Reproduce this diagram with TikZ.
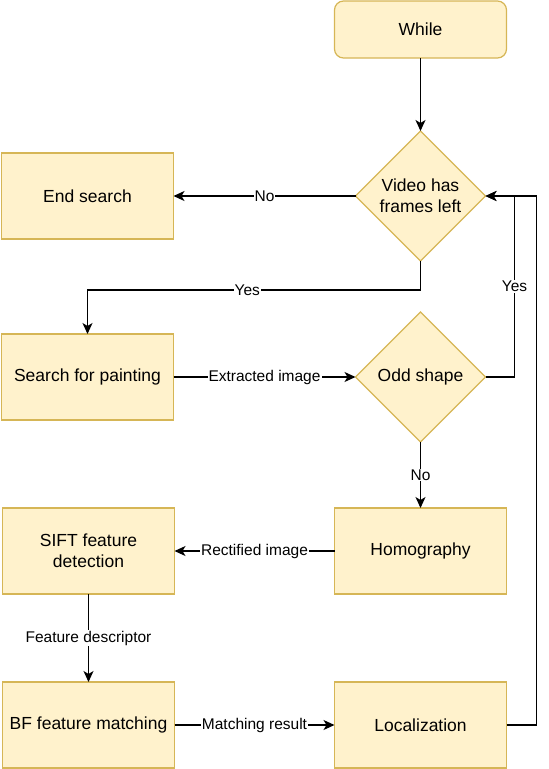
\documentclass[tikz,border=0pt]{standalone}
\usepackage{fontspec}
\setmainfont{Liberation Sans}
\usetikzlibrary{positioning,shapes.geometric,arrows.meta}
\definecolor{boxfill}{HTML}{FFF2CC}
\definecolor{boxdraw}{HTML}{D6B656}
\tikzset{
    stepbox/.style={draw=boxdraw, fill=boxfill, line width=1.2pt, outer sep=0pt,
        minimum width=172pt, minimum height=86pt, align=center,
        font=\fontsize{17.5}{21}\selectfont},
    startbox/.style={stepbox, rounded corners=9pt, minimum height=57pt},
    decision/.style={diamond, draw=boxdraw, fill=boxfill, line width=1.2pt,
        minimum width=130pt, minimum height=130pt, inner sep=0pt, outer sep=0pt,
        align=center, font=\fontsize{17.5}{21}\selectfont},
    arr/.style={-{Stealth[length=11pt,width=10pt,inset=3pt]}, line width=1.3pt},
    lbl/.style={fill=white, inner sep=1pt, font=\fontsize{15.5}{18}\selectfont}
}

\begin{document}
\begin{tikzpicture}
\useasboundingbox (0,0) rectangle (549pt,-769pt);

\node[startbox] (while) at (420.5pt,-29.5pt) {While};
\node[decision, below=73pt of while] (frames) {Video has\\frames left};
\node[stepbox, left=182pt of frames] (end) {End search};
\node[stepbox, below=95pt of end] (search) {Search for painting};
\node[decision, right=182pt of search] (odd) {Odd shape};
\node[stepbox, below=66pt of odd] (homo) {Homography};
\node[stepbox, left=160pt of homo] (sift) {SIFT feature\\detection};
\node[stepbox, below=88pt of sift] (bf) {BF feature matching};
\node[stepbox, right=160pt of bf] (loc) {Localization};

\draw[arr] (while) -- (frames);
\draw[arr] (frames) -- node[lbl]{No} (end);
\draw[arr] (frames.south) -- ++(0,-29pt) -| node[lbl,pos=0.26]{Yes} (search);
\draw[arr] (search) -- node[lbl]{Extracted image} (odd);
\draw[arr] (odd.east) -- ++(29pt,0) |- node[lbl,pos=0.25]{Yes} (frames.east);
\draw[arr] (odd) -- node[lbl]{No} (homo);
\draw[arr] (homo) -- node[lbl]{Rectified image} (sift);
\draw[arr] (sift) -- node[lbl]{Feature descriptor} (bf);
\draw[arr] (bf) -- node[lbl]{Matching result} (loc);
\draw[arr] (loc.east) -- ++(30pt,0) |- (frames.east);
\end{tikzpicture}
\end{document}
